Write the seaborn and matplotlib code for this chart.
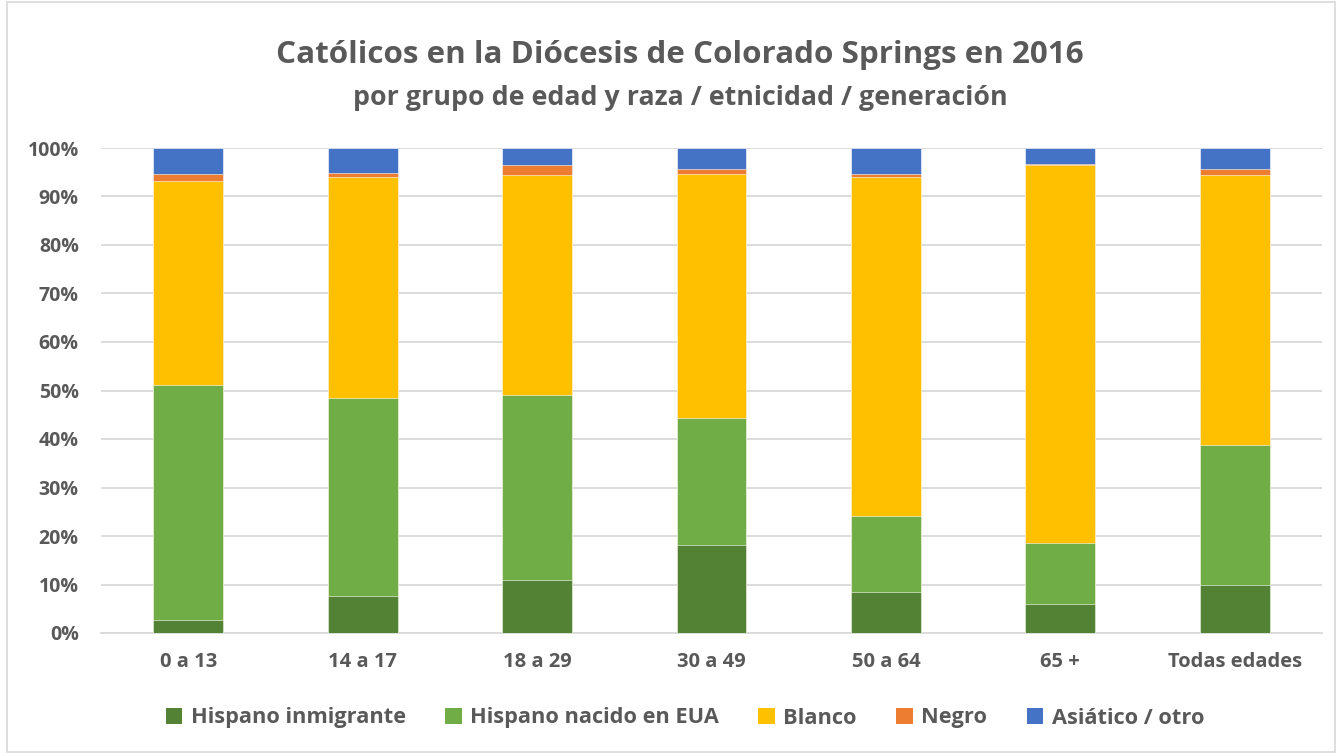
import numpy as np
import pandas as pd
import matplotlib
matplotlib.use("Agg")
import matplotlib.pyplot as plt
from matplotlib.patches import Rectangle, Patch
import seaborn as sns

categories = ["0 a 13", "14 a 17", "18 a 29", "30 a 49", "50 a 64", "65 +", "Todas edades"]
series_names = ["Hispano inmigrante", "Hispano nacido en EUA", "Blanco", "Negro", "Asiático / otro"]
hisp_inmigrante = [2.7, 7.7, 11.0, 18.2, 8.5, 5.9, 10.0]
hisp_nacido = [48.5, 40.8, 38.1, 26.2, 15.7, 12.7, 28.8]
blanco = [42.0, 45.5, 45.3, 50.3, 69.8, 77.9, 55.6]
negro = [1.4, 0.9, 2.1, 1.0, 0.7, 0.3, 1.2]
asiatico = [5.4, 5.1, 3.5, 4.3, 5.3, 3.2, 4.4]
colors = ["#548235", "#70AD47", "#FFC000", "#ED7D31", "#4472C4"]
yticks = [0, 10, 20, 30, 40, 50, 60, 70, 80, 90, 100]

sns.set_theme(style="white")
FAM = ["Open Sans", "DejaVu Sans"]
plt.rcParams["font.family"] = FAM
text_color = "#595959"

df = pd.DataFrame({"cat": categories})
vals = [hisp_inmigrante, hisp_nacido, blanco, negro, asiatico]
cum = np.cumsum(np.array(vals), axis=0)
for i, name in enumerate(series_names):
    df[name] = cum[i]

fig = plt.figure(figsize=(13.38, 7.53), dpi=100)
ax = fig.add_axes([101/1338, 120/753, (1322-101)/1338, (633-148)/753])

for i in range(len(series_names) - 1, -1, -1):
    sns.barplot(data=df, x="cat", y=series_names[i], color=colors[i], width=0.4,
                saturation=1, edgecolor="#ffffff", linewidth=0.4, ax=ax, zorder=3)

ax.set_ylim(0, 100)
ax.set_xlim(-0.5, 6.5)
ax.set_yticks(yticks)
ax.set_yticklabels([f"{t}%" for t in yticks])
ax.yaxis.grid(True, color="#D9D9D9", linewidth=1.3, zorder=0)
ax.set_axisbelow(True)
for s in ["top", "right", "left"]:
    ax.spines[s].set_visible(False)
ax.spines["bottom"].set_color("#D9D9D9")
ax.spines["bottom"].set_linewidth(1.3)
ax.set_xlabel("")
ax.set_ylabel("")
ax.tick_params(axis="y", length=0, pad=16, labelsize=14, labelcolor=text_color)
ax.tick_params(axis="x", length=0, pad=14, labelsize=14.5, labelcolor=text_color)
for lab in ax.get_xticklabels() + ax.get_yticklabels():
    lab.set_fontweight("bold")

fig.text(680/1338, 1 - 55/753, "Católicos en la Diócesis de Colorado Springs en 2016",
         ha="center", va="center", fontsize=22.6, fontweight="bold", color=text_color)
fig.text(680/1338, 1 - 98/753, "por grupo de edad y raza / etnicidad / generación",
         ha="center", va="center", fontsize=19.3, fontweight="bold", color=text_color)

handles = [Patch(facecolor=c, edgecolor="none") for c in colors]
leg = fig.legend(handles, series_names, loc="center", bbox_to_anchor=(685/1338, 1 - 718/753),
                 ncol=5, frameon=False, handlelength=0.75, handleheight=0.75,
                 columnspacing=1.8, handletextpad=0.4,
                 prop={"family": FAM, "weight": "bold", "size": 15.7})
for t in leg.get_texts():
    t.set_color(text_color)

fig.patches.append(Rectangle((7/1338, 1/753), 1328/1338, 750/753, transform=fig.transFigure,
                             fill=False, edgecolor="#D9D9D9", linewidth=1.2))

fig.savefig("out.png", dpi=100)
